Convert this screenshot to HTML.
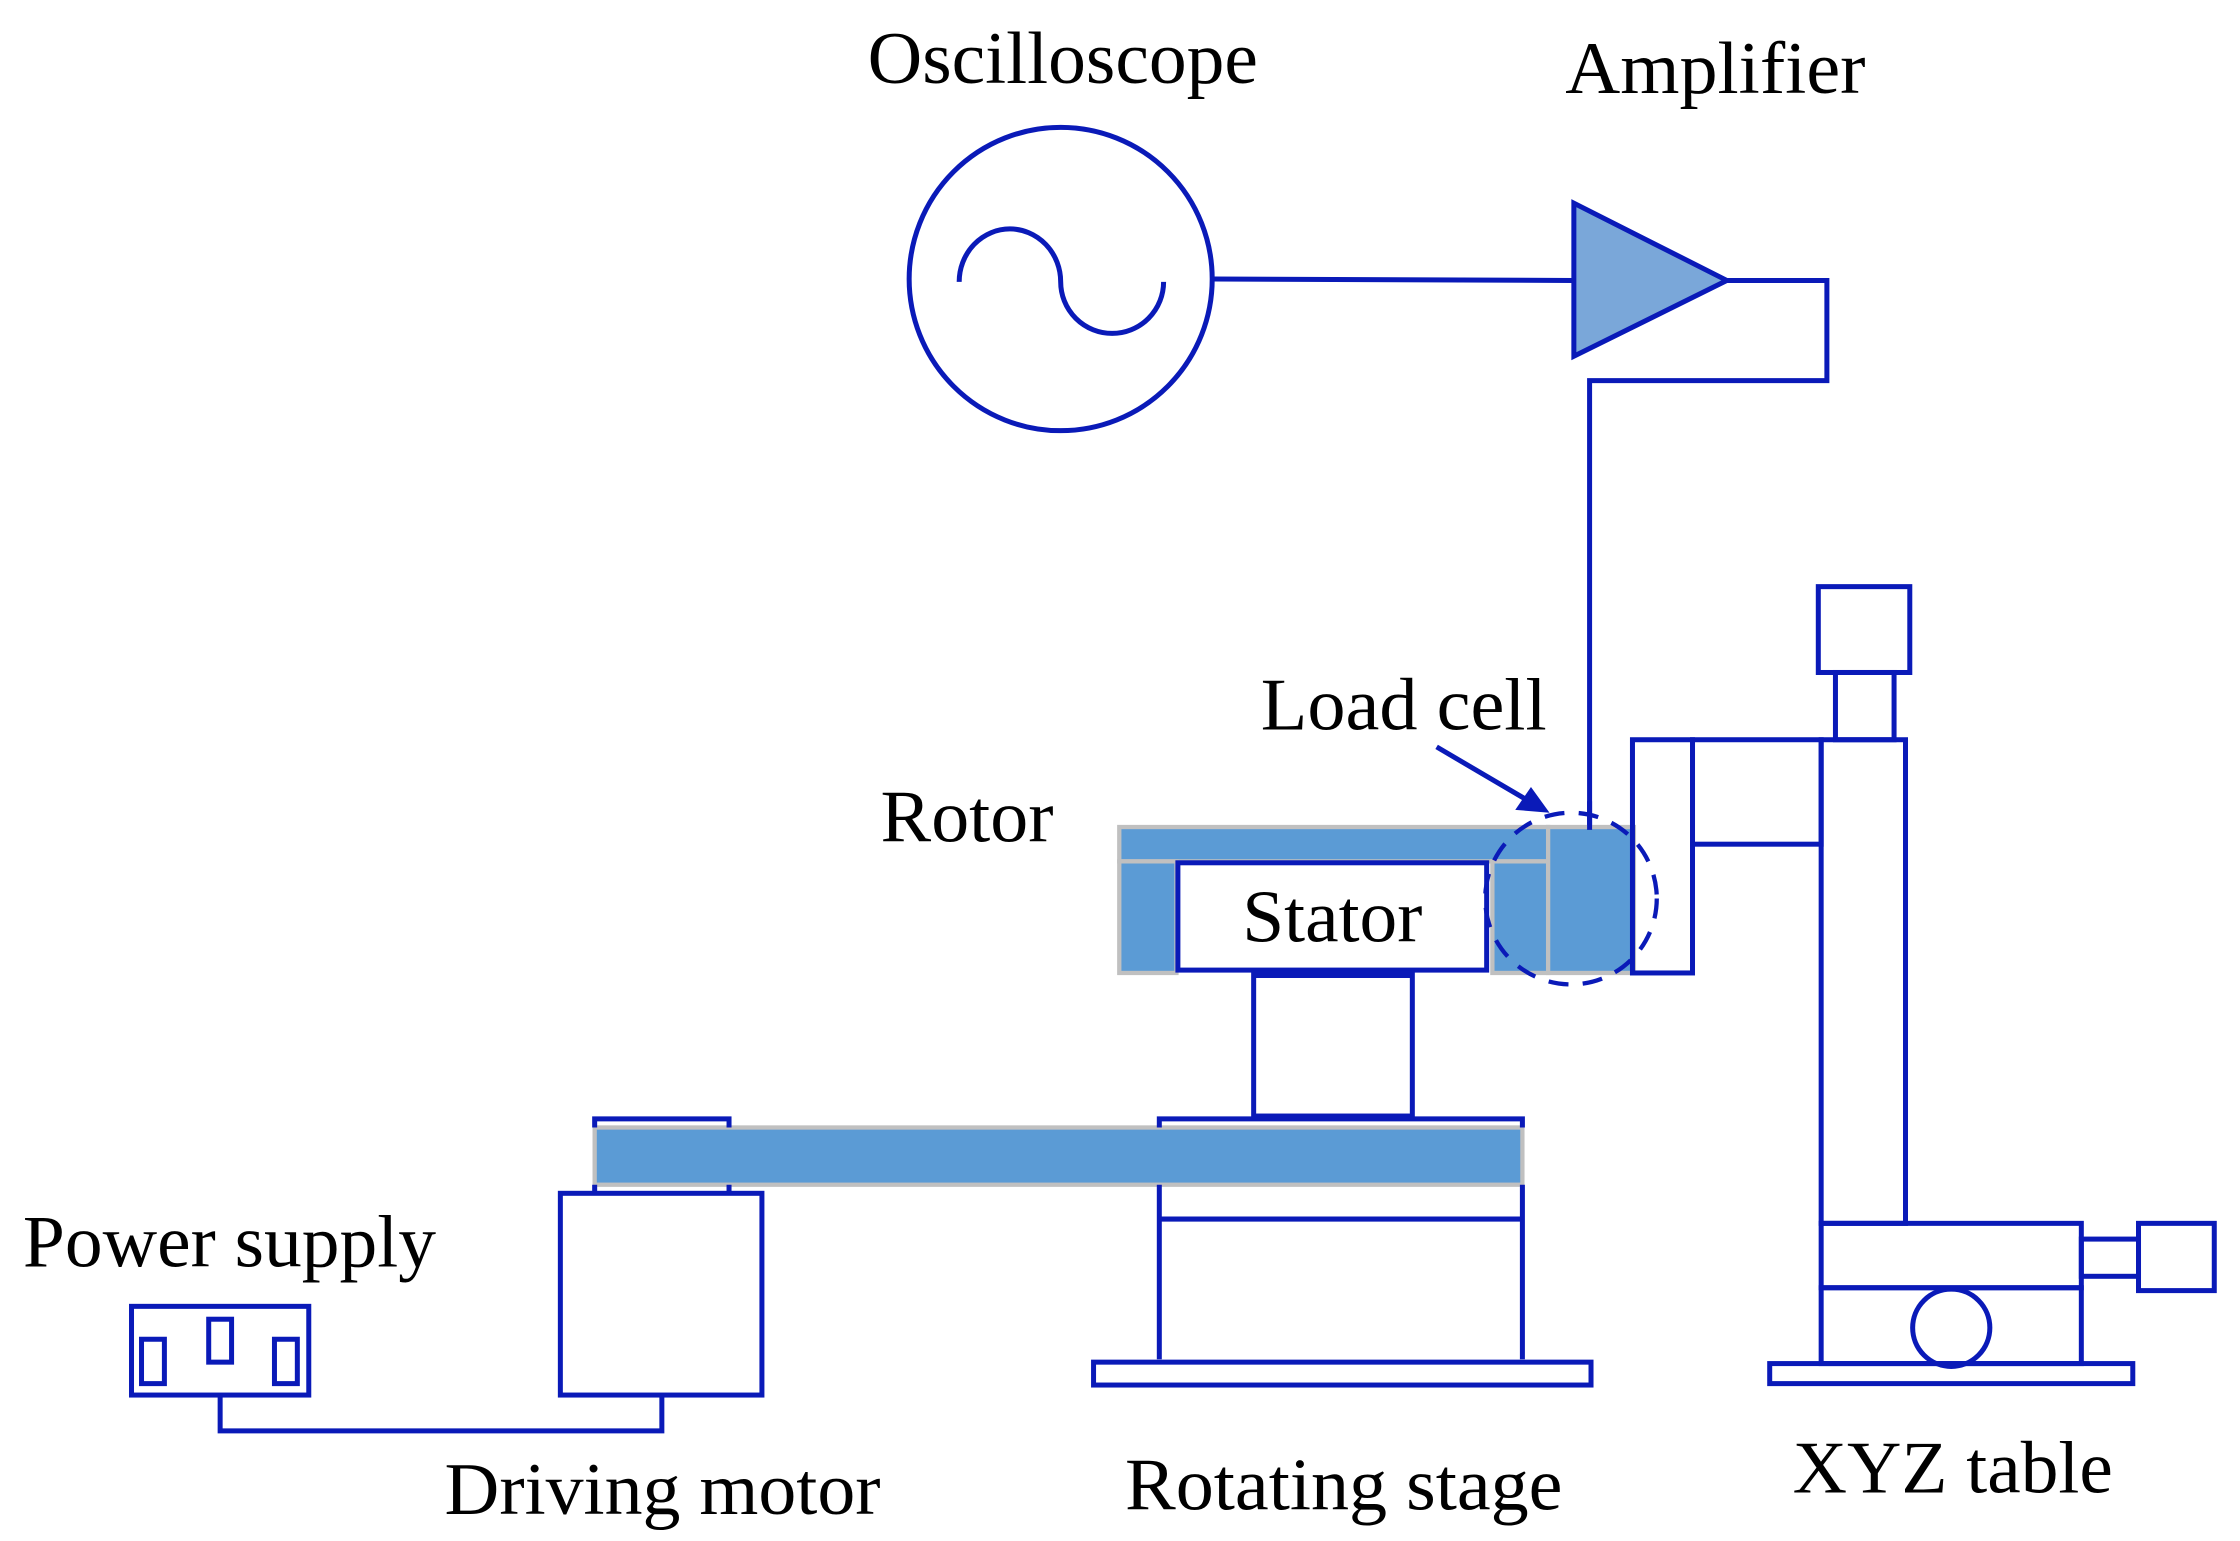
<!DOCTYPE html>
<html><head><meta charset="utf-8"><style>html,body{margin:0;padding:0;background:#fff}svg{display:block}</style></head>
<body>
<svg width="2240" height="1541" viewBox="0 0 1567 1077" preserveAspectRatio="none" xmlns="http://www.w3.org/2000/svg">
<g font-family="Liberation Serif, serif" font-size="52" fill="#000">
<text x="607" y="58" textLength="273" lengthAdjust="spacingAndGlyphs">Oscilloscope</text>
<text x="1095" y="65" textLength="210" lengthAdjust="spacingAndGlyphs">Amplifier</text>
<text x="882" y="510" textLength="200" lengthAdjust="spacingAndGlyphs">Load cell</text>
<text x="616" y="588" textLength="121" lengthAdjust="spacingAndGlyphs">Rotor</text>
<text x="16" y="885" textLength="289" lengthAdjust="spacingAndGlyphs">Power supply</text>
<text x="311" y="1058" textLength="305" lengthAdjust="spacingAndGlyphs">Driving motor</text>
<text x="787" y="1055" textLength="306" lengthAdjust="spacingAndGlyphs">Rotating stage</text>
<text x="1254" y="1043" textLength="224" lengthAdjust="spacingAndGlyphs">XYZ table</text>
</g>
<g fill="none" stroke="#0a1ab8" stroke-width="3.5">
<circle cx="742" cy="195" r="106"/>
<path d="M671 197 A35.5 37 0 0 1 742 197 A36 36 0 0 0 814 197"/>
<path d="M849 195 L1101 196"/>
<polygon points="1101,142 1101,249 1208,196" fill="#7aa7d9"/>
<path d="M1208 196 H1278 V266 H1112 V580"/>
<line x1="1005" y1="522" x2="1068" y2="559"/>
</g>
<polygon points="1084,568 1060,566 1071,550" fill="#0a1ab8"/>
<g fill="#5b9bd5" stroke="#c0c0c0" stroke-width="3">
<rect x="783" y="578" width="300" height="24"/>
<rect x="783" y="602" width="40" height="78"/>
<rect x="1044" y="602" width="39" height="78"/>
<rect x="1083" y="578" width="60" height="102"/>
<rect x="416" y="788" width="649" height="40"/>
</g>
<g fill="none" stroke="#0a1ab8" stroke-width="3.5">
<line x1="1112" y1="560" x2="1112" y2="580"/>
<rect x="824" y="603" width="216" height="75" fill="#fff"/>
<ellipse cx="1099" cy="628" rx="60" ry="60" stroke-dasharray="14,10" stroke-width="3"/>
<rect x="877" y="680" width="111" height="100"/>
<line x1="877" y1="681" x2="988" y2="681" stroke-width="5"/>
<path d="M811 788 V782 H1065 V788 M811 828 V950 M1065 828 V950"/>
<line x1="811" y1="852" x2="1065" y2="852"/>
<rect x="765" y="952" width="348" height="16"/>
<path d="M416 788 V782 H510 V788 M416 828 V834 M510 828 V834"/>
<rect x="392" y="834" width="141" height="141"/>
<path d="M463 975 V1000 H154 V975"/>
<rect x="92" y="913" width="124" height="62"/>
<rect x="99" y="936" width="16" height="31"/>
<rect x="146" y="922" width="16" height="30"/>
<rect x="192" y="936" width="16" height="31"/>
<rect x="1272" y="410" width="64" height="60"/>
<rect x="1284" y="470" width="41" height="47"/>
<rect x="1274" y="517" width="59" height="338"/>
<rect x="1142" y="517" width="42" height="163"/>
<rect x="1184" y="517" width="90" height="73"/>
<rect x="1274" y="855" width="182" height="45"/>
<rect x="1274" y="900" width="182" height="53"/>
<circle cx="1365" cy="928" r="27"/>
<rect x="1456" y="866" width="40" height="26"/>
<rect x="1496" y="855" width="53" height="47"/>
<rect x="1238" y="953" width="254" height="14"/>
</g>
<text x="932" y="658" text-anchor="middle" font-family="Liberation Serif, serif" font-size="52" textLength="126" lengthAdjust="spacingAndGlyphs">Stator</text>
</svg>
</body></html>
